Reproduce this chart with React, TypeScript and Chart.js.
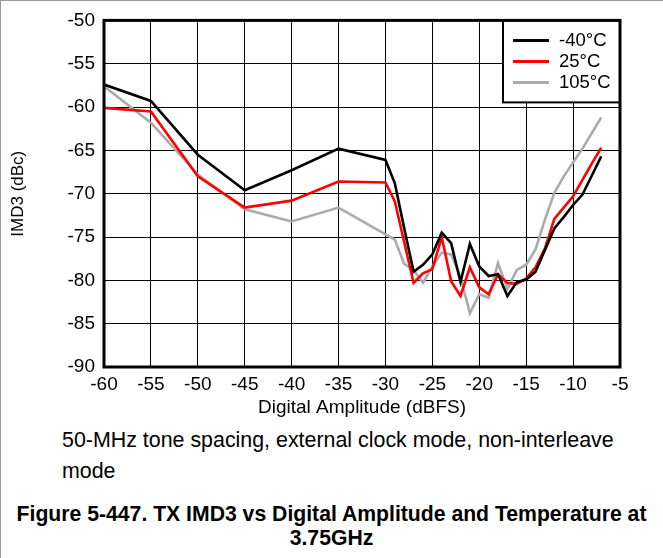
import React, { useEffect, useRef } from "react";
import { Chart, registerables } from "chart.js";

Chart.register(...registerables);

// Digital amplitude (dBFS)
const amplitudes = [-60, -55, -50, -45, -40, -35, -30, -29, -28, -27, -26, -25, -24, -23, -22, -21, -20, -19, -18, -17, -16, -15, -14, -13, -12, -11, -10, -9, -8, -7];

// IMD3 (dBc) per temperature
const imd3Minus40C = [-57.4, -59.3, -65.5, -69.6, -67.3, -64.8, -66.1, -68.8, -74.0, -79.0, -78.2, -77.0, -74.5, -75.7, -80.2, -75.8, -78.4, -79.5, -79.3, -81.8, -80.2, -79.9, -79.0, -76.5, -74.0, -72.7, -71.3, -70.1, -67.9, -65.7];
const imd3Plus25C = [-60.1, -60.5, -68.0, -71.6, -70.8, -68.6, -68.7, -70.9, -75.6, -80.3, -79.2, -78.7, -75.0, -80.1, -81.8, -78.5, -80.8, -81.6, -79.3, -80.3, -80.4, -79.8, -78.5, -76.3, -72.9, -71.6, -70.3, -68.4, -66.5, -64.7];
const imd3Plus105C = [-57.6, -61.8, -67.8, -71.8, -73.2, -71.6, -74.7, -75.3, -78.1, -78.8, -80.3, -78.4, -76.8, -77.0, -79.6, -83.8, -81.6, -82.0, -78.0, -81.0, -78.8, -78.2, -76.4, -73.0, -69.9, -68.0, -66.4, -64.8, -63.0, -61.2];

const seriesLabels = ["-40°C", "25°C", "105°C"];
const seriesColors = ["#000000", "#ff0000", "#ababab"];

const X_MIN = -60;
const X_MAX = -5;
const Y_MIN = -90;
const Y_MAX = -50;
const TICK_STEP = 5;

const FONT = '"Liberation Sans", Arial, sans-serif';

const boxPlugin = {
  id: "boxLegendAndFrame",
  afterDraw(chart: any) {
    const { ctx, chartArea } = chart;
    const w = 117;
    const h = 82;
    const lx = chartArea.right - w;
    const ty = chartArea.top;
    ctx.save();
    ctx.fillStyle = "#ffffff";
    ctx.fillRect(lx, ty, w, h);
    ctx.strokeStyle = "#000000";
    ctx.lineWidth = 2;
    ctx.strokeRect(lx, ty, w, h);
    chart.data.datasets.forEach((ds: any, i: number) => {
      const y = ty + 20 + i * 21;
      ctx.strokeStyle = ds.borderColor;
      ctx.lineWidth = 3;
      ctx.beginPath();
      ctx.moveTo(lx + 10, y);
      ctx.lineTo(lx + 46, y);
      ctx.stroke();
      ctx.fillStyle = "#000000";
      ctx.font = `18.5px ${FONT}`;
      ctx.textBaseline = "middle";
      ctx.textAlign = "left";
      ctx.fillText(ds.label, lx + 56, y + 1);
    });
    ctx.strokeStyle = "#000000";
    ctx.lineWidth = 3;
    ctx.strokeRect(
      chartArea.left,
      chartArea.top,
      chartArea.right - chartArea.left,
      chartArea.bottom - chartArea.top
    );
    ctx.restore();
  },
};

export default function App() {
  const canvasRef = useRef<HTMLCanvasElement>(null);

  useEffect(() => {
    const series = [imd3Minus40C, imd3Plus25C, imd3Plus105C];
    const chart = new Chart(canvasRef.current as HTMLCanvasElement, {
      type: "line",
      data: {
        datasets: series.map((vals, i) => ({
          label: seriesLabels[i],
          data: amplitudes.map((x, j) => ({ x, y: vals[j] })),
          borderColor: seriesColors[i],
          backgroundColor: seriesColors[i],
          borderWidth: 2.6,
          pointRadius: 0,
          tension: 0,
          fill: false,
        })),
      },
      options: {
        animation: false,
        responsive: false,
        devicePixelRatio: 1,
        layout: { padding: { left: 0, top: 19, right: 43, bottom: 0 } },
        plugins: {
          legend: { display: false },
          tooltip: { enabled: false },
        },
        scales: {
          x: {
            type: "linear",
            min: X_MIN,
            max: X_MAX,
            ticks: {
              stepSize: TICK_STEP,
              color: "#000",
              font: { family: FONT, size: 19 },
              padding: 6,
              maxRotation: 0,
            },
            grid: { color: "#000", lineWidth: 1, drawTicks: false },
            border: { display: false },
            title: {
              display: true,
              text: "Digital Amplitude (dBFS)",
              color: "#000",
              font: { family: FONT, size: 19 },
              padding: { top: 0, bottom: 6 },
            },
            afterFit: (scale: any) => {
              scale.height = 58;
            },
          },
          y: {
            type: "linear",
            min: Y_MIN,
            max: Y_MAX,
            ticks: {
              stepSize: TICK_STEP,
              color: "#000",
              font: { family: FONT, size: 19 },
              padding: 9,
            },
            grid: { color: "#000", lineWidth: 1, drawTicks: false },
            border: { display: false },
            title: {
              display: true,
              text: "IMD3 (dBc)",
              color: "#000",
              font: { family: FONT, size: 17 },
              padding: { top: 8, bottom: 0 },
            },
            afterFit: (scale: any) => {
              scale.width = 104;
            },
          },
        },
      },
      plugins: [boxPlugin],
    });
    return () => chart.destroy();
  }, []);

  return (
    <div
      style={{
        position: "absolute",
        left: 0,
        top: 0,
        width: 663,
        height: 558,
        background: "#ffffff",
        fontFamily: FONT,
        color: "#000",
        overflow: "hidden",
      }}
    >
      <div style={{ position: "absolute", left: 0, top: 0, width: 663, height: 1, background: "#999" }} />
      <div style={{ position: "absolute", left: 0, top: 0, width: 1, height: 558, background: "#999" }} />
      <div style={{ position: "absolute", left: 0, top: 0, width: 663, height: 425 }}>
        <canvas ref={canvasRef} width={663} height={425} style={{ display: "block" }} />
      </div>
      <div
        style={{
          position: "absolute",
          left: 62,
          top: 425,
          width: 575,
          fontSize: 21.4,
          lineHeight: "31px",
        }}
      >
        50-MHz tone spacing, external clock mode, non-interleave mode
      </div>
      <div
        style={{
          position: "absolute",
          left: 0,
          top: 502,
          width: 663,
          textAlign: "center",
          fontWeight: "bold",
          fontSize: 21.2,
          lineHeight: "24px",
        }}
      >
        Figure 5-447. TX IMD3 vs Digital Amplitude and Temperature at 3.75GHz
      </div>
    </div>
  );
}
